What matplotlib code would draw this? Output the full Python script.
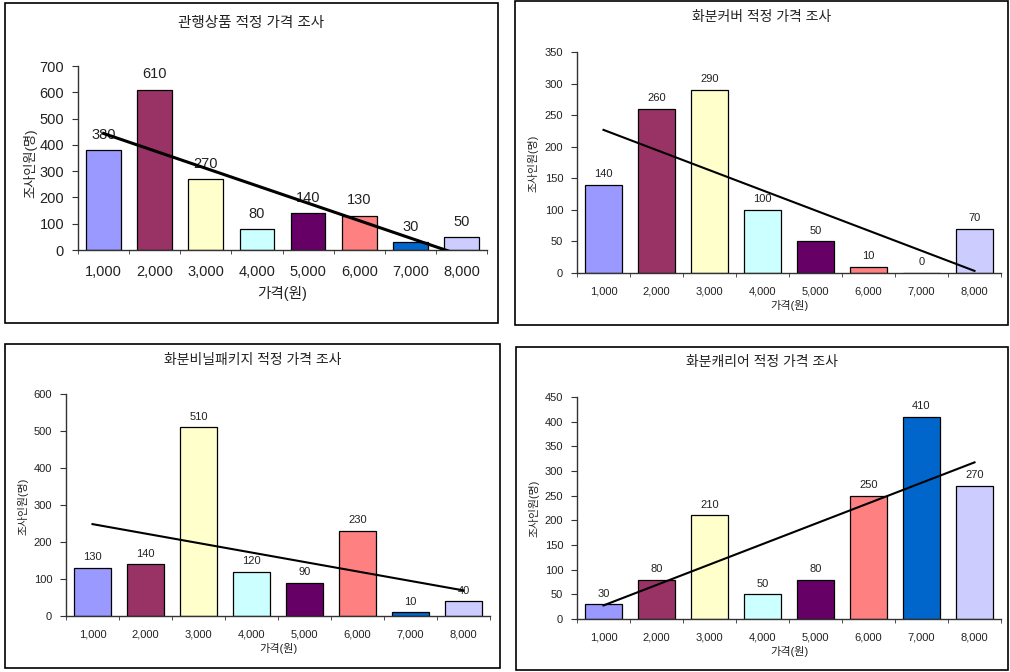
import numpy as np
import matplotlib
matplotlib.use("Agg")
import matplotlib.pyplot as plt
from matplotlib.patches import Rectangle

plt.rcParams["font.family"] = ["Liberation Sans", "Noto Sans CJK KR", "DejaVu Sans"]

# data
prices = ["1,000", "2,000", "3,000", "4,000", "5,000", "6,000", "7,000", "8,000"]
bar_colors = ["#9999FF", "#993366", "#FFFFCC", "#CCFFFF",
              "#660066", "#FF8080", "#0066CC", "#CCCCFF"]

titles = ["관행상품 적정 가격 조사", "화분커버 적정 가격 조사",
          "화분비닐패키지 적정 가격 조사", "화분캐리어 적정 가격 조사"]
conventional = [380, 610, 270, 80, 140, 130, 30, 50]
pot_cover = [140, 260, 290, 100, 50, 10, 0, 70]
vinyl_package = [130, 140, 510, 120, 90, 230, 10, 40]
pot_carrier = [30, 80, 210, 50, 80, 250, 410, 270]
y_max = [700, 350, 600, 450]
y_step = [100, 50, 100, 50]
xlabel = "가격(원)"
ylabel = "조사인원(명)"

W, H = 1010, 672
fig = plt.figure(figsize=(W / 100, H / 100), dpi=100)


def px_rect(l, t, r, b):
    return [l / W, 1 - b / H, (r - l) / W, (b - t) / H]


# panel frames (left, top, right, bottom) in pixels
frames = [(5, 3, 498, 323), (515, 1, 1008, 325), (5, 344, 500, 668), (516, 347, 1008, 670)]
axes_px = [(78, 66, 487, 250), (577, 52, 1001, 273), (66, 394, 490, 616), (577, 397, 1001, 619)]
title_y = [23, 17, 360, 362]
ylabel_pos = [(30, 163), (533, 163), (23, 506), (534, 508)]
big = [True, False, False, False]
series = [conventional, pot_cover, vinyl_package, pot_carrier]

txt = "#222222"

for i in range(4):
    l, t, r, b = frames[i]
    fig.patches.append(Rectangle((l / W, 1 - b / H), (r - l) / W, (b - t) / H,
                                 transform=fig.transFigure, fill=False,
                                 edgecolor="black", linewidth=1.2))
    ax = fig.add_axes(px_rect(*axes_px[i]))
    vals = series[i]
    x = np.arange(1, 9)
    fs = 10.5 if big[i] else 8
    ax.bar(x, vals, width=0.68, color=bar_colors, edgecolor="black", linewidth=0.9, zorder=2)
    for xi, v in zip(x, vals):
        ax.annotate(str(v), (xi, v), xytext=(0, 6 if big[i] else 4), textcoords="offset points",
                    ha="center", va="bottom", fontsize=fs, color=txt, zorder=3)
    # linear trendline
    k, c = np.polyfit(x, vals, 1)
    ax.plot([1, 8], [k * 1 + c, k * 8 + c], color="black",
            linewidth=2.2 if big[i] else 1.5, zorder=4)

    ax.set_xlim(0.5, 8.5)
    ax.set_ylim(0, y_max[i])
    ax.set_yticks(np.arange(0, y_max[i] + 1, y_step[i]))
    ax.set_xticks(x)
    ax.set_xticklabels(prices)
    ax.set_xticks(np.arange(0.5, 9, 1), minor=True)
    ax.tick_params(axis="x", which="major", length=0, pad=11 if big[i] else 10,
                   labelsize=fs, labelcolor=txt)
    ax.tick_params(axis="x", which="minor", length=3, direction="out", color="#333333")
    ax.tick_params(axis="y", length=4, direction="out", labelsize=fs, labelcolor=txt,
                   color="#333333", pad=6)
    for s in ["top", "right"]:
        ax.spines[s].set_visible(False)
    for s in ["left", "bottom"]:
        ax.spines[s].set_color("#333333")
        ax.spines[s].set_linewidth(1.0)
    ax.set_xlabel(xlabel, fontsize=fs, color=txt, labelpad=5 if big[i] else 2)
    yx, yy = ylabel_pos[i]
    fig.text(yx / W, 1 - yy / H, ylabel, rotation=90, ha="center", va="center",
             fontsize=9.5 if big[i] else 7.8, color=txt)
    cx = (l + r) / 2
    fig.text(cx / W, 1 - title_y[i] / H, titles[i], ha="center", va="center",
             fontsize=10.5 if big[i] else 10, color=txt)

fig.savefig("out.png", dpi=100)
